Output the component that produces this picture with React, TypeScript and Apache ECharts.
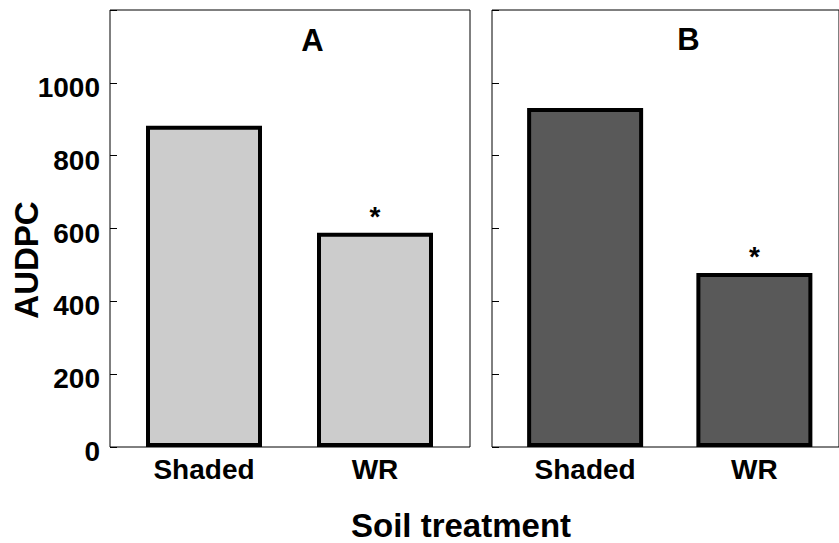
import React, { useEffect, useRef } from "react";
import * as echarts from "echarts";

const categories = ["Shaded", "WR"];
const panelTitles = ["A", "B"];
const panelAValues = [882, 588];
const panelBValues = [931, 478];
const significance = ["", "*"];
const panelColors = ["#cccccc", "#595959"];
const yMin = 0;
const yMax = 1200;
const yStep = 200;
const yAxisTitle = "AUDPC";
const xAxisTitle = "Soil treatment";

const FONT = "'Liberation Sans', Arial, Helvetica, sans-serif";

export default function App() {
  const ref = useRef<HTMLDivElement>(null);
  useEffect(() => {
    if (!ref.current) return;
    const chart = echarts.init(ref.current, undefined, { renderer: "svg" });
    const frameTop = 10;
    const frameH = 437;
    const frameW = 360;
    const frameLefts = [110, 492];
    const dataOffset = 8.5;
    const dataW = 342;
    const labelShift = 4.5;
    const grids: any[] = [];
    frameLefts.forEach((l) =>
      grids.push({ left: l, top: frameTop, width: frameW, height: frameH, show: true, borderColor: "#000", borderWidth: 1, backgroundColor: "transparent" })
    );
    frameLefts.forEach((l) =>
      grids.push({ left: l + dataOffset, top: frameTop, width: dataW, height: frameH, show: false })
    );
    grids.push({ left: frameLefts[0], top: frameTop + labelShift, width: frameW, height: frameH, show: false });
    const yBase = { type: "value", min: yMin, max: yMax, interval: yStep };
    const tickOnly = (g: number) => ({
      ...yBase,
      gridIndex: g,
      axisLine: { show: false },
      splitLine: { show: false },
      axisTick: { show: true, inside: true, length: 7, lineStyle: { color: "#000", width: 1 } },
      axisLabel: { show: false },
    });
    const yAxes: any[] = [
      tickOnly(0),
      tickOnly(1),
      { ...yBase, gridIndex: 2, show: false, splitLine: { show: false } },
      { ...yBase, gridIndex: 3, show: false, splitLine: { show: false } },
      {
        ...yBase,
        gridIndex: 4,
        axisLine: { show: false },
        splitLine: { show: false },
        axisTick: { show: false },
        axisLabel: {
          show: true,
          margin: 10,
          color: "#000",
          fontFamily: FONT,
          fontWeight: "bold",
          fontSize: 28,
          formatter: (v: number) => (v >= yMax ? "" : String(v)),
        },
      },
    ];
    const xAxes: any[] = [
      { type: "value", gridIndex: 0, show: false, splitLine: { show: false } },
      { type: "value", gridIndex: 1, show: false, splitLine: { show: false } },
      ...[2, 3].map((g) => ({
        type: "category",
        gridIndex: g,
        data: categories,
        axisLine: { show: false },
        axisTick: { show: false },
        splitLine: { show: false },
        axisLabel: { color: "#000", fontFamily: FONT, fontWeight: "bold", fontSize: 28, margin: 8 },
      })),
      { type: "value", gridIndex: 4, show: false, splitLine: { show: false } },
    ];
    const mkSeries = (vals: number[], idx: number) => ({
      type: "bar",
      xAxisIndex: idx + 2,
      yAxisIndex: idx + 2,
      barWidth: 116,
      data: vals.map((v, i) => ({
        value: v,
        label: {
          show: significance[i] !== "",
          position: "top",
          distance: 2,
          formatter: significance[i],
          color: "#000",
          fontFamily: FONT,
          fontWeight: "bold",
          fontSize: 28,
        },
      })),
      itemStyle: { color: panelColors[idx], borderColor: "#000", borderWidth: 4 },
    });
    chart.setOption({
      animation: false,
      backgroundColor: "#fff",
      grid: grids,
      xAxis: xAxes,
      yAxis: yAxes,
      series: [mkSeries(panelAValues, 0), mkSeries(panelBValues, 1)],
      graphic: [
        { type: "text", x: 312.5, y: 40, style: { text: panelTitles[0], font: `bold 31px ${FONT}`, fill: "#000", align: "center", verticalAlign: "middle" } },
        { type: "text", x: 688.5, y: 39.5, style: { text: panelTitles[1], font: `bold 31px ${FONT}`, fill: "#000", align: "center", verticalAlign: "middle" } },
        { type: "text", x: 26, y: 260, rotation: Math.PI / 2, style: { text: yAxisTitle, font: `bold 33px ${FONT}`, fill: "#000", align: "center", verticalAlign: "middle" } },
        { type: "text", x: 461, y: 525, style: { text: xAxisTitle, font: `bold 33px ${FONT}`, fill: "#000", align: "center", verticalAlign: "middle" } },
      ],
    });
    return () => chart.dispose();
  }, []);
  return <div ref={ref} style={{ position: "absolute", left: 0, top: 0, width: 839, height: 543 }} />;
}
